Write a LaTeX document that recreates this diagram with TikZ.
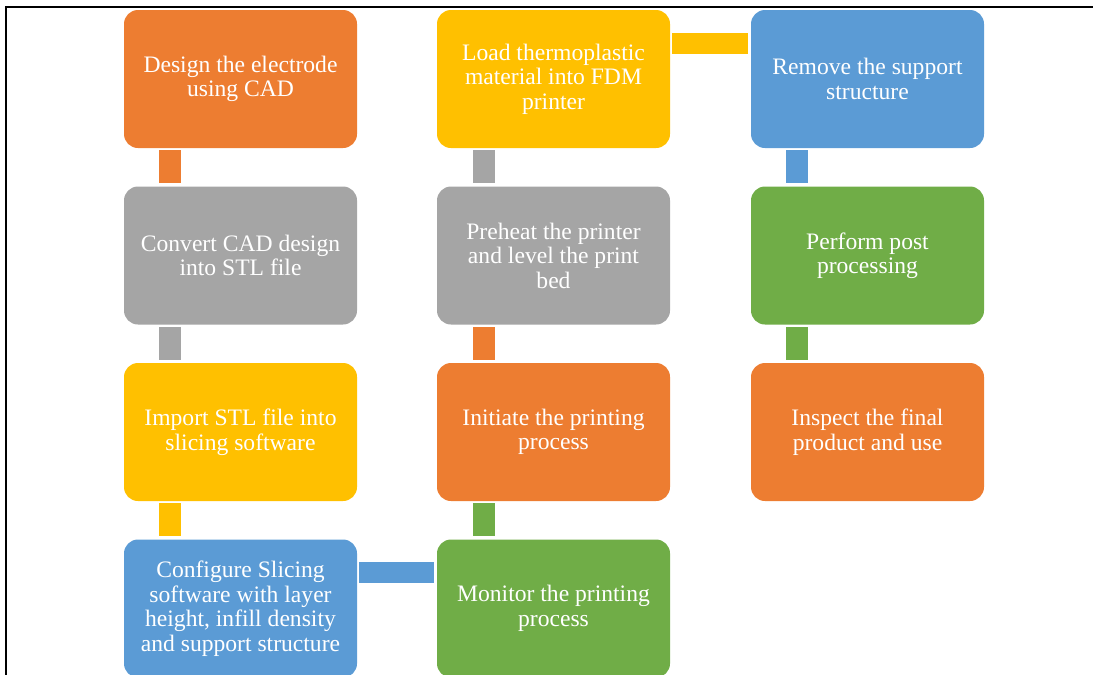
\documentclass[tikz,border=0pt]{standalone}
\usepackage{fontspec}
\setmainfont{Liberation Serif}
\usetikzlibrary{calc}
\definecolor{cOrange}{HTML}{ED7D31}
\definecolor{cGray}{HTML}{A5A5A5}
\definecolor{cGold}{HTML}{FFC000}
\definecolor{cBlue}{HTML}{5B9BD5}
\definecolor{cGreen}{HTML}{70AD47}
\begin{document}
\begin{tikzpicture}[x=1pt,y=-1pt,
  stepbox/.style={rounded corners=14pt, minimum width=233pt, minimum height=138pt,
    inner sep=0pt, text=white, align=center,
    font=\fontsize{23.6}{24.5}\selectfont},
  frameline/.style={line width=2pt, black}]
\useasboundingbox (0,0) rectangle (1093,675);
% frame lines along the top and left edges
\draw[frameline] (1093,7) -- (6,7) -- (6,675);

% column 1
\node[stepbox, fill=cOrange] (s1) at (240.5,79) {Design the electrode\\using CAD};
\node[stepbox, fill=cGray]   (s2) at (240.5,255.5) {Convert CAD design\\into STL file};
\node[stepbox, fill=cGold]   (s3) at (240.5,432) {Import STL file into\\slicing software};
\node[stepbox, fill=cBlue]   (s4) at (240.5,608.5) {Configure Slicing\\software with layer\\height, infill density\\and support structure};
% column 2
\node[stepbox, fill=cGreen]  (s5) at (553.5,608.5) {Monitor the printing\\process};
\node[stepbox, fill=cOrange] (s6) at (553.5,432) {Initiate the printing\\process};
\node[stepbox, fill=cGray]   (s7) at (553.5,255.5) {Preheat the printer\\and level the print\\bed};
\node[stepbox, fill=cGold]   (s8) at (553.5,79) {Load thermoplastic\\material into FDM\\printer};
% column 3
\node[stepbox, fill=cBlue]   (s9) at (867.5,79) {Remove the support\\structure};
\node[stepbox, fill=cGreen]  (s10) at (867.5,255.5) {Perform post\\processing};
\node[stepbox, fill=cOrange] (s11) at (867.5,432) {Inspect the final\\product and use};

% vertical links, downward
\fill[cOrange] ($(s1.south west)+(35,2)$) rectangle ($(s2.north west)+(57,-3)$);
\fill[cGray]   ($(s2.south west)+(35,2)$) rectangle ($(s3.north west)+(57,-3)$);
\fill[cGold]   ($(s3.south west)+(35,2)$) rectangle ($(s4.north west)+(57,-3)$);
\fill[cBlue]   ($(s9.south west)+(35,2)$) rectangle ($(s10.north west)+(57,-3)$);
\fill[cGreen]  ($(s10.south west)+(35,2)$) rectangle ($(s11.north west)+(57,-3)$);
% vertical links, upward
\fill[cGreen]  ($(s5.north west)+(36,-3)$) rectangle ($(s6.south west)+(58,2)$);
\fill[cOrange] ($(s6.north west)+(36,-3)$) rectangle ($(s7.south west)+(58,2)$);
\fill[cGray]   ($(s7.north west)+(36,-3)$) rectangle ($(s8.south west)+(58,2)$);
% horizontal links
\fill[cBlue] ($(s4.north east)+(2,23)$) rectangle ($(s5.north west)+(-3,44)$);
\fill[cGold] ($(s8.north east)+(2,23)$) rectangle ($(s9.north west)+(-3,44)$);
\end{tikzpicture}
\end{document}
